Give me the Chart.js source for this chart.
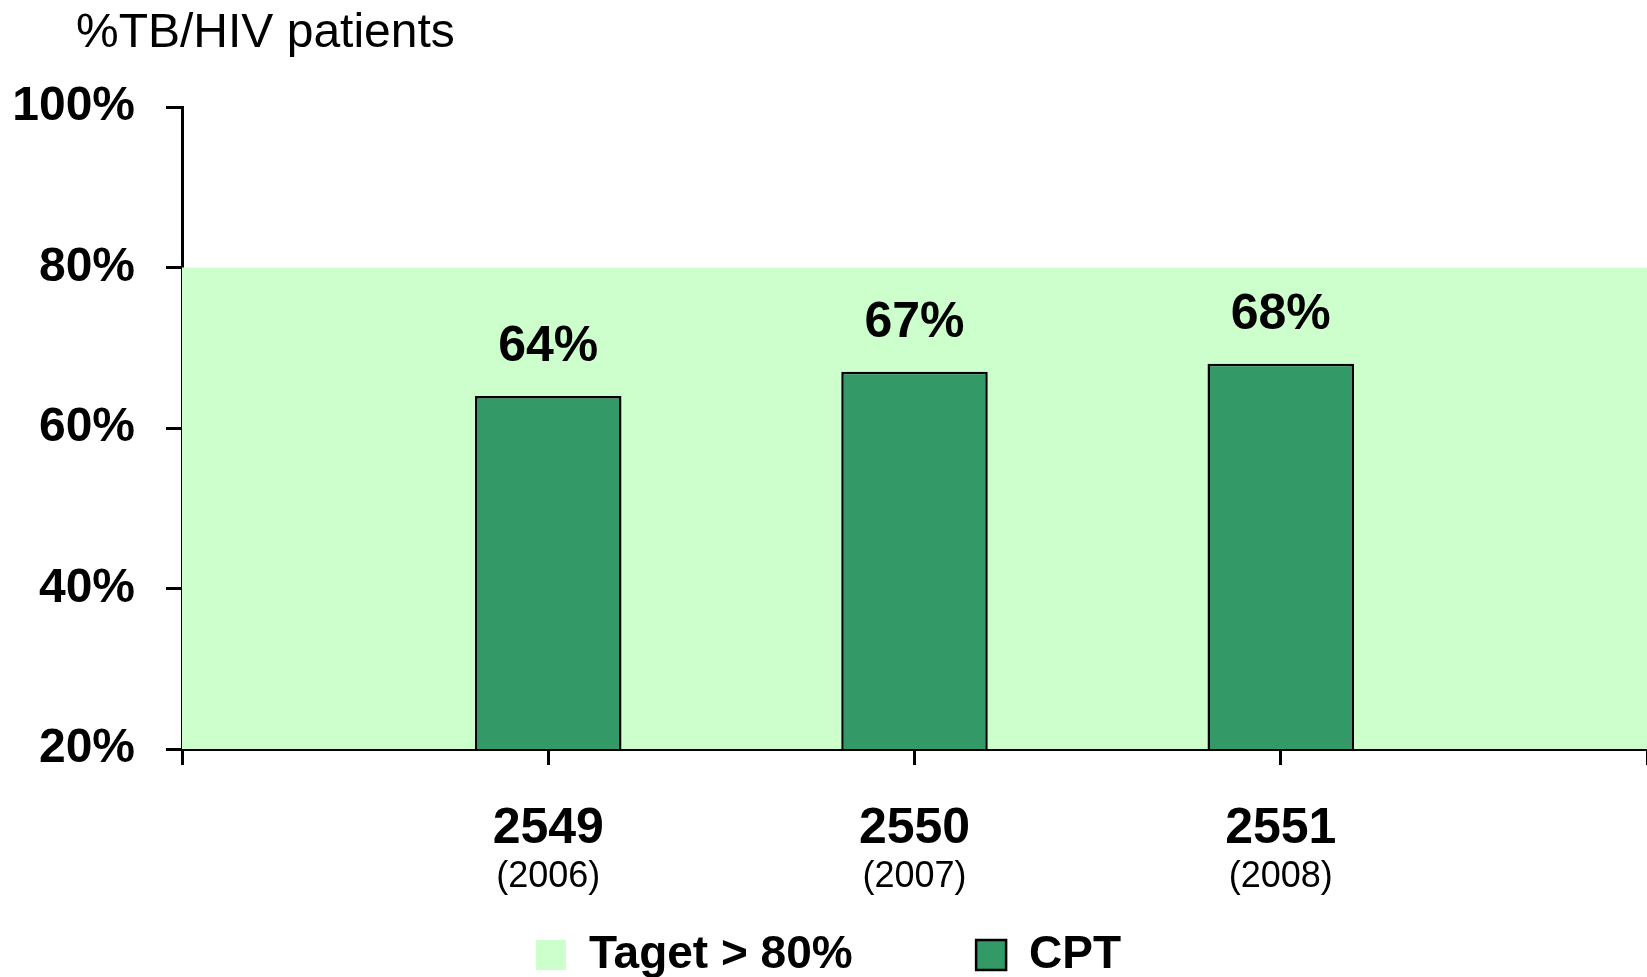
<!DOCTYPE html>
<html><head><meta charset="utf-8">
<script src="https://cdn.jsdelivr.net/npm/chart.js@4.4.1/dist/chart.umd.min.js"></script>
<style>html,body{margin:0;padding:0;background:#fff}#wrap{width:1647px;height:977px;position:relative}</style>
</head><body><div id="wrap"><canvas id="c"></canvas></div>
<script>
const titleText = '%TB/HIV patients';
const buddhistYears = ['', '2549', '2550', '2551', ''];
const gregorianYears = ['', '(2006)', '(2007)', '(2008)', ''];
const cptValues = [null, 64, 67, 68, null];
const targetValues = [80, 80, 80, 80, 80];
const yTickValues = [20, 40, 60, 80, 100];
const seriesNames = ['Taget > 80%', 'CPT'];

const FONT = "'Liberation Sans', Arial, sans-serif";
Chart.defaults.font.family = FONT;
Chart.defaults.color = '#000';

const titlePlugin = {
  id: 'topTitle',
  afterDraw(chart) {
    const ctx = chart.ctx;
    ctx.save();
    ctx.font = `48px ${FONT}`;
    ctx.fillStyle = '#000';
    ctx.textAlign = 'left';
    ctx.textBaseline = 'alphabetic';
    ctx.fillText(titleText, 76, 47);
    ctx.restore();
  }
};

const valueLabels = {
  id: 'valueLabels',
  afterDatasetsDraw(chart) {
    const ctx = chart.ctx;
    const meta = chart.getDatasetMeta(1);
    ctx.save();
    ctx.font = `bold 50px ${FONT}`;
    ctx.fillStyle = '#000';
    ctx.textAlign = 'center';
    ctx.textBaseline = 'alphabetic';
    meta.data.forEach((el, i) => {
      const v = chart.data.datasets[1].data[i];
      if (v == null) return;
      ctx.fillText(v + '%', el.x, el.y - 35);
    });
    ctx.restore();
  }
};

function noSidePadding(scale) { scale.paddingLeft = 0; scale.paddingRight = 0; }

new Chart(document.getElementById('c'), {
  type: 'bar',
  data: {
    labels: buddhistYears,
    datasets: [
      {
        type: 'line',
        label: seriesNames[0] + '\u00A0\u00A0\u00A0\u00A0\u00A0\u00A0\u00A0',
        data: targetValues,
        fill: 'start',
        backgroundColor: '#CCFFCC',
        borderColor: '#CCFFCC',
        borderWidth: 0,
        pointRadius: 0,
        tension: 0
      },
      {
        type: 'bar',
        label: seriesNames[1],
        data: cptValues,
        backgroundColor: '#339966',
        borderColor: '#000',
        borderWidth: 2.5,
        categoryPercentage: 0.4,
        barPercentage: 1
      }
    ]
  },
  options: {
    responsive: true,
    maintainAspectRatio: false,
    animation: false,
    layout: { padding: { top: 107, left: 10, right: 0, bottom: -11 } },
    plugins: {
      filler: { drawTime: 'beforeDatasetsDraw' },
      tooltip: { enabled: false },
      title: { display: false },
      legend: {
        position: 'bottom',
        labels: {
          boxWidth: 30,
          boxHeight: 30,
          padding: 34,
          color: '#000',
          font: { size: 46, weight: 'bold', family: FONT }
        }
      }
    },
    scales: {
      x: {
        type: 'category',
        position: 'bottom',
        offset: false,
        afterFit(scale) { noSidePadding(scale); scale.height = 104; },
        grid: { display: true, offset: false, drawOnChartArea: false, drawTicks: true, tickLength: 16, color: '#000', lineWidth: 3 },
        border: { display: true, color: '#000', width: 3 },
        ticks: { autoSkip: false, maxRotation: 0, padding: 34, color: '#000', font: { size: 50, weight: 'bold', family: FONT } }
      },
      x2: {
        type: 'category',
        position: 'bottom',
        labels: gregorianYears,
        offset: false,
        afterFit(scale) { noSidePadding(scale); scale.height = 45; },
        grid: { display: false, drawTicks: false, offset: false },
        border: { display: false },
        ticks: { autoSkip: false, maxRotation: 0, padding: 2, color: '#000', font: { size: 36, family: FONT } }
      },
      y: {
        min: 20,
        max: 100,
        afterBuildTicks(scale) { scale.ticks = yTickValues.map(v => ({ value: v })); },
        afterFit(scale) { scale.width = 172; },
        grid: { display: true, drawOnChartArea: false, drawTicks: true, tickLength: 16, color: '#000', lineWidth: 3 },
        border: { display: true, color: '#000', width: 3 },
        ticks: { padding: 31, color: '#000', font: { size: 48, weight: 'bold', family: FONT }, callback: v => v + '%' }
      }
    }
  },
  plugins: [titlePlugin, valueLabels]
});
</script>
</body></html>
